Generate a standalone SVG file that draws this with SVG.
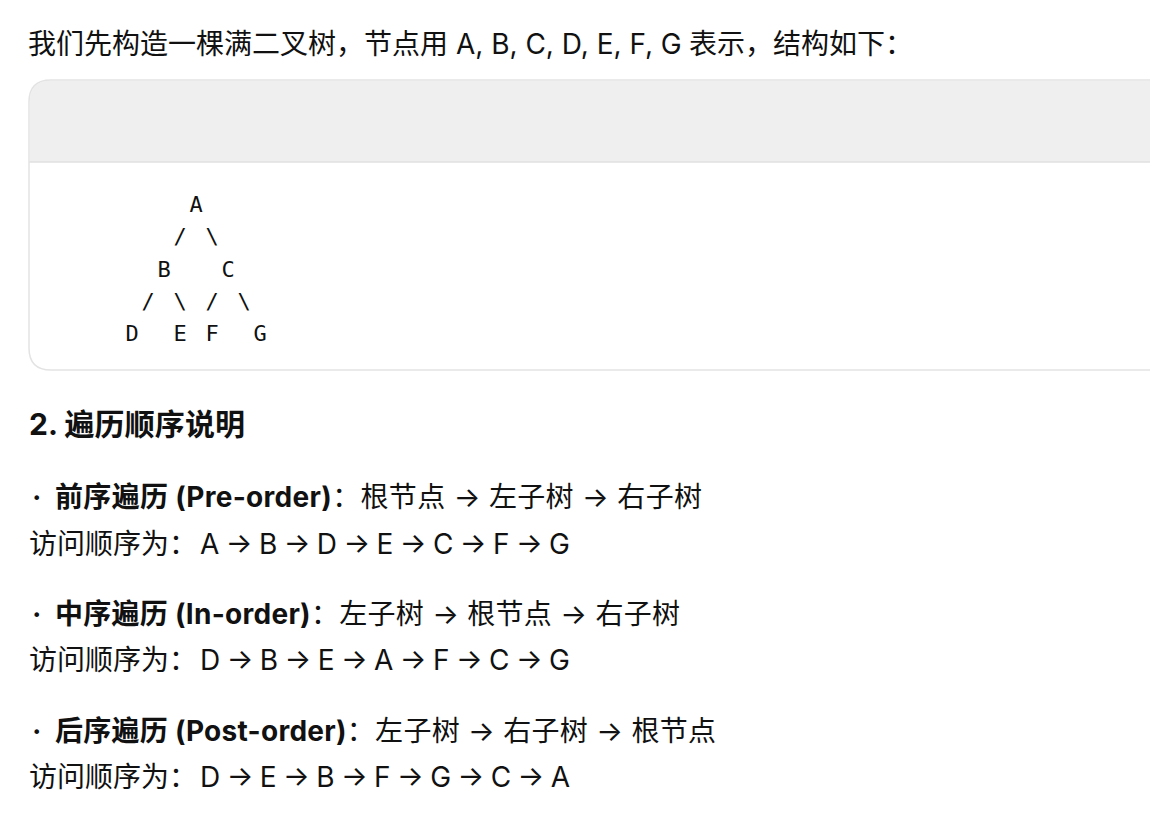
<svg xmlns="http://www.w3.org/2000/svg" width="1150" height="818" viewBox="0 0 1150 818">
<style>
.t{font-family:Inter,"Noto Sans CJK SC",sans-serif;font-size:28px;fill:#111}
.b{font-weight:700}
.h{font-family:Inter,"Noto Sans CJK SC",sans-serif;font-size:30px;font-weight:700;fill:#111}
.m{font-family:"DejaVu Sans Mono",monospace;font-size:22px;fill:#111;text-anchor:middle}
.dot{font-family:"DejaVu Sans",sans-serif;font-size:16px;fill:#111}
</style>
<rect width="1150" height="818" fill="#ffffff"/>
<g id="intro"><text class="t" x="28" y="54">我们先构造一棵满二叉树，节点用 A, B, C, D, E, F, G<tspan x="689">表示，结构如下：</tspan></text></g>
<g id="codeblock">
<path d="M1160 80.8 H51 Q29.8 80.8 29.8 102 V162 H1160 Z" fill="#efefef"/>
<line x1="29" y1="162" x2="1160" y2="162" stroke="#e0e0e0" stroke-width="1.5"/>
<path d="M1160 80 H51 Q29 80 29 102 V348 Q29 370 51 370 H1160" fill="none" stroke="#e3e3e3" stroke-width="1.5"/>
</g>
<g id="tree">
<g id="node-A"><text class="m" x="196" y="212">A</text></g>
<g id="node-B"><text class="m" x="164" y="277">B</text></g>
<g id="node-C"><text class="m" x="228" y="277">C</text></g>
<g id="node-D"><text class="m" x="132" y="341">D</text></g>
<g id="node-E"><text class="m" x="180" y="341">E</text></g>
<g id="node-F"><text class="m" x="212" y="341">F</text></g>
<g id="node-G"><text class="m" x="260" y="341">G</text></g>
<g id="connectors">
<text class="m" x="180" y="244">/</text>
<text class="m" x="212" y="244">\</text>
<text class="m" x="148" y="309">/</text>
<text class="m" x="180" y="309">\</text>
<text class="m" x="212" y="309">/</text>
<text class="m" x="244" y="309">\</text>
</g>
</g>
<g id="heading"><text class="h" x="29" y="435" textLength="216" lengthAdjust="spacing">2. 遍历顺序说明</text></g>
<g id="preorder">
<text class="dot" x="32" y="504">•</text>
<text class="t" x="55" y="507" textLength="647" lengthAdjust="spacing"><tspan class="b">前序遍历 (Pre-order)</tspan>：根节点 → 左子树 → 右子树</text>
<text class="t" x="29" y="554">访问顺序为：</text>
<text class="t" x="200" y="554" textLength="370" lengthAdjust="spacing">A → B → D → E → C → F → G</text>
</g>
<g id="inorder">
<text class="dot" x="32" y="621">•</text>
<text class="t" x="55" y="624" textLength="625" lengthAdjust="spacing"><tspan class="b">中序遍历 (In-order)</tspan>：左子树 → 根节点 → 右子树</text>
<text class="t" x="29" y="670">访问顺序为：</text>
<text class="t" x="200" y="670" textLength="370" lengthAdjust="spacing">D → B → E → A → F → C → G</text>
</g>
<g id="postorder">
<text class="dot" x="32" y="738">•</text>
<text class="t" x="55" y="741" textLength="661" lengthAdjust="spacing"><tspan class="b">后序遍历 (Post-order)</tspan>：左子树 → 右子树 → 根节点</text>
<text class="t" x="29" y="787">访问顺序为：</text>
<text class="t" x="200" y="787" textLength="370" lengthAdjust="spacing">D → E → B → F → G → C → A</text>
</g>
</svg>
